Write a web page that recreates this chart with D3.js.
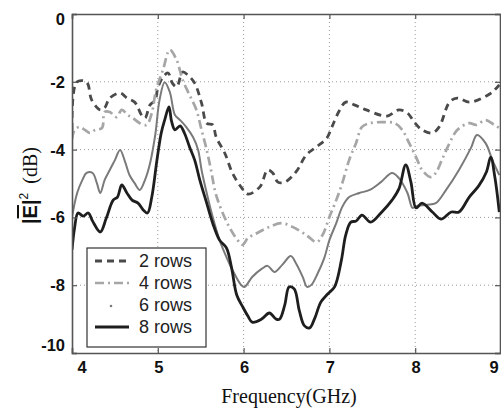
<!DOCTYPE html>
<html><head><meta charset="utf-8">
<script src="https://cdn.jsdelivr.net/npm/d3@7"></script>
<style>body{margin:0;background:#fff}svg{display:block}</style>
</head><body>
<svg id="c" width="501" height="410"></svg>
<script>
const seriesNames = ["2 rows","4 rows","6 rows","8 rows"];
const xTicks = [4,5,6,7,8,9];
const yTicks = [0,-2,-4,-6,-8,-10];

const freq2 = [4.00,4.055,4.17,4.23,4.33,4.38,4.44,4.56,4.64,4.73,4.77,4.81,4.85,4.91,4.97,5.00,5.06,5.12,5.17,5.22,5.29,5.35,5.43,5.51,5.57,5.64,5.68,5.78,5.87,5.97,6.05,6.19,6.28,6.34,6.40,6.48,6.61,6.73,6.85,6.97,7.03,7.12,7.19,7.29,7.43,7.67,7.81,7.91,7.99,8.08,8.20,8.28,8.40,8.49,8.63,8.78,8.90,8.98];
const db2 = [-3.42,-2.01,-2.01,-2.54,-2.83,-2.77,-2.48,-2.33,-2.48,-2.60,-2.77,-2.98,-3.07,-2.68,-2.54,-2.18,-1.86,-1.74,-2.04,-2.15,-1.71,-1.80,-2.04,-2.63,-3.22,-3.27,-3.63,-4.10,-4.69,-5.10,-5.31,-5.10,-4.60,-4.69,-4.96,-4.96,-4.66,-4.16,-3.92,-3.66,-3.33,-2.83,-2.60,-2.68,-2.83,-3.01,-2.83,-2.92,-3.19,-3.42,-3.51,-3.33,-2.60,-2.48,-2.60,-2.48,-2.30,-2.09];

const freq4 = [4.00,4.03,4.09,4.15,4.21,4.27,4.35,4.38,4.44,4.52,4.58,4.65,4.71,4.79,4.87,4.93,4.98,5.06,5.14,5.22,5.29,5.37,5.45,5.51,5.57,5.62,5.68,5.81,5.93,5.99,6.05,6.16,6.30,6.44,6.57,6.73,6.85,6.92,7.00,7.08,7.15,7.23,7.31,7.38,7.47,7.62,7.76,7.85,7.93,8.01,8.08,8.18,8.24,8.31,8.40,8.49,8.63,8.71,8.82,8.92,8.98];
const db4 = [-3.70,-3.42,-3.33,-3.42,-3.51,-3.42,-3.36,-2.89,-2.89,-3.04,-2.83,-2.98,-3.07,-3.22,-3.27,-2.92,-2.24,-1.65,-1.06,-1.36,-1.95,-2.39,-2.83,-3.42,-4.01,-4.60,-5.34,-6.17,-6.67,-6.81,-6.61,-6.46,-6.28,-6.17,-6.28,-6.52,-6.73,-6.52,-5.99,-5.49,-4.99,-4.31,-3.81,-3.33,-3.22,-3.19,-3.22,-3.42,-3.81,-4.22,-4.60,-4.81,-4.69,-4.31,-3.81,-3.42,-3.22,-3.27,-3.13,-3.27,-3.36];

const freq6 = [4.00,4.06,4.12,4.17,4.24,4.29,4.33,4.38,4.44,4.50,4.56,4.62,4.67,4.73,4.79,4.85,4.91,4.97,5.02,5.08,5.14,5.20,5.26,5.33,5.41,5.47,5.51,5.57,5.64,5.72,5.80,5.87,5.97,6.01,6.10,6.21,6.28,6.36,6.45,6.55,6.61,6.69,6.74,6.79,6.86,6.94,7.00,7.08,7.15,7.23,7.35,7.47,7.60,7.73,7.81,7.91,7.97,8.02,8.14,8.24,8.36,8.51,8.65,8.72,8.82,8.90,8.98];
const db6 = [-5.99,-5.28,-4.90,-4.69,-4.69,-4.99,-5.28,-4.90,-4.60,-4.31,-4.01,-4.37,-4.75,-4.99,-5.19,-4.90,-4.40,-3.57,-2.54,-2.01,-2.30,-2.98,-3.13,-3.33,-3.63,-4.01,-4.60,-5.28,-5.99,-6.67,-7.17,-7.55,-7.99,-8.05,-7.76,-7.52,-7.43,-7.61,-7.40,-7.14,-7.35,-7.76,-8.05,-7.99,-7.67,-7.20,-6.67,-6.17,-5.69,-5.40,-5.28,-5.19,-4.96,-4.69,-4.84,-5.28,-5.72,-5.66,-5.63,-5.58,-5.19,-4.60,-3.95,-3.57,-3.81,-4.31,-4.75];

const freq8 = [4.00,4.03,4.07,4.13,4.19,4.24,4.33,4.40,4.48,4.53,4.58,4.64,4.70,4.77,4.83,4.88,4.93,4.99,5.04,5.08,5.13,5.16,5.20,5.26,5.31,5.37,5.43,5.49,5.57,5.64,5.72,5.80,5.86,5.92,5.99,6.05,6.10,6.21,6.30,6.38,6.42,6.48,6.53,6.59,6.65,6.71,6.77,6.83,6.90,6.98,7.06,7.14,7.19,7.25,7.31,7.38,7.48,7.60,7.73,7.81,7.89,7.95,8.01,8.08,8.20,8.30,8.42,8.51,8.63,8.74,8.83,8.88,8.93,8.98];
const db8 = [-6.96,-6.31,-5.87,-5.96,-5.87,-6.11,-6.43,-6.02,-5.49,-5.40,-5.04,-5.28,-5.49,-5.58,-5.78,-5.87,-5.40,-4.31,-3.51,-3.13,-2.74,-3.16,-3.42,-3.30,-3.51,-3.92,-4.31,-4.90,-5.58,-6.17,-6.67,-6.90,-7.49,-8.29,-8.64,-8.91,-9.09,-9.00,-8.82,-9.00,-9.00,-8.58,-8.05,-8.11,-8.76,-9.20,-9.26,-8.97,-8.50,-8.26,-8.05,-7.26,-6.52,-6.14,-6.11,-5.93,-6.14,-5.87,-5.49,-5.16,-4.45,-4.96,-5.72,-5.58,-5.84,-6.05,-5.84,-5.84,-5.40,-5.07,-4.66,-4.22,-4.84,-5.84];

const series = [
  {name: seriesNames[0], f: freq2, v: db2, color: "#4a4a4a", width: 2.8, dash: "7,5"},
  {name: seriesNames[1], f: freq4, v: db4, color: "#a6a6a6", width: 2.7, dash: "9,4,2,4"},
  {name: seriesNames[2], f: freq6, v: db6, color: "#7a7a7a", width: 2.0, dash: null},
  {name: seriesNames[3], f: freq8, v: db8, color: "#1e1e1e", width: 2.8, dash: null}
];

const L = 72, R = 501, T = 14, B = 353;
const svg = d3.select("#c");
const x = d3.scaleLinear().domain([4,9]).range([L,R]);
const y = d3.scaleLinear().domain([-10,0]).range([B,T]);

svg.append("defs").append("clipPath").attr("id","clip")
  .append("rect").attr("x",L).attr("y",T).attr("width",R-L-1).attr("height",B-T);

// grid
const grid = svg.append("g");
grid.selectAll(".gx").data(xTicks.slice(1,-1)).enter().append("line")
  .attr("x1",d=>x(d)).attr("x2",d=>x(d)).attr("y1",T).attr("y2",B)
  .attr("stroke","#9a9a9a").attr("stroke-width",1).attr("stroke-dasharray","1,3");
grid.selectAll(".gy").data(yTicks.slice(1,-1)).enter().append("line")
  .attr("x1",L).attr("x2",R).attr("y1",d=>y(d)).attr("y2",d=>y(d))
  .attr("stroke","#9a9a9a").attr("stroke-width",1).attr("stroke-dasharray","1,3");

// lines
const line = d3.line().curve(d3.curveCatmullRom.alpha(0.5));
const lg = svg.append("g").attr("clip-path","url(#clip)");
series.forEach(s => {
  const pts = s.f.map((f,i)=>[x(f), y(s.v[i])]);
  const p = lg.append("path").attr("d", line(pts)).attr("fill","none")
    .attr("stroke", s.color).attr("stroke-width", s.width)
    .attr("stroke-linejoin","round");
  if (s.dash) p.attr("stroke-dasharray", s.dash);
});

// axes (frame)
const xAxis = d3.axisBottom(x).tickValues(xTicks).tickSize(-5).tickFormat("");
const gx = svg.append("g").attr("transform",`translate(0,${B})`).call(xAxis);
const xAxisTop = d3.axisTop(x).tickValues(xTicks).tickSize(-5).tickFormat("");
const gxt = svg.append("g").attr("transform",`translate(0,${T})`).call(xAxisTop);
const yAxis = d3.axisLeft(y).tickValues(yTicks).tickSize(-5).tickFormat("");
const gy = svg.append("g").attr("transform",`translate(${L},0)`).call(yAxis);
const yAxisR = d3.axisRight(y).tickValues(yTicks).tickSize(-5).tickFormat("");
const gyr = svg.append("g").attr("transform",`translate(${R-1},0)`).call(yAxisR);
[gx,gxt,gy,gyr].forEach(g=>{
  g.select(".domain").attr("stroke","#555").attr("stroke-width",1.6);
  g.selectAll(".tick line").attr("stroke","#555").attr("stroke-width",1.2);
});

// tick labels
const lblFont = "'Liberation Sans', Arial, sans-serif";
svg.append("g").selectAll("text").data(xTicks).enter().append("text")
  .attr("x", d => d===4 ? x(d)+10 : d===9 ? x(d)-7 : x(d)+1)
  .attr("y", 373).attr("text-anchor","middle")
  .attr("font-family",lblFont).attr("font-weight","bold").attr("font-size",16.5)
  .attr("fill","#111").text(d=>d);
svg.append("g").selectAll("text").data(yTicks).enter().append("text")
  .attr("x", 65)
  .attr("y", d => (d===0 ? y(d)+5 : d===-10 ? y(d)-8 : y(d)) + 6)
  .attr("text-anchor","end")
  .attr("font-family",lblFont).attr("font-weight","bold").attr("font-size",16.5)
  .attr("fill","#111").text(d=>d);

// x title
svg.append("text").attr("x",289).attr("y",403).attr("text-anchor","middle")
  .attr("font-family","'Liberation Serif', 'Times New Roman', serif").attr("font-size",20)
  .attr("fill","#111").text("Frequency(GHz)");

// y title
const yt = svg.append("text").attr("transform","translate(37,224) rotate(-90)")
  .attr("fill","#111");
yt.append("tspan").attr("font-family",lblFont).attr("font-weight","bold").attr("font-size",20).text("|");
yt.append("tspan").attr("font-family",lblFont).attr("font-weight","bold").attr("font-size",20)
  .style("text-decoration","overline").text("E");
yt.append("tspan").attr("font-family",lblFont).attr("font-weight","bold").attr("font-size",20).text("|");
yt.append("tspan").attr("font-family",lblFont).attr("font-size",12).attr("dy",-9).text("2");
yt.append("tspan").attr("font-family","'Liberation Serif', 'Times New Roman', serif")
  .attr("font-size",20).attr("dx",9).attr("dy",9).text("(dB)");

// legend
const leg = svg.append("g");
leg.append("rect").attr("x",87).attr("y",248).attr("width",119).attr("height",99)
  .attr("fill","#fff").attr("stroke","#333").attr("stroke-width",1.2);
const rowY = [261,283,305,327];
series.forEach((s,i)=>{
  if (i===2) {
    leg.append("circle").attr("cx",111).attr("cy",rowY[i]+1).attr("r",1.3).attr("fill",s.color);
  } else {
    const l = leg.append("line").attr("x1",95).attr("x2",129).attr("y1",rowY[i]).attr("y2",rowY[i])
      .attr("stroke",s.color).attr("stroke-width",s.width);
    if (s.dash) l.attr("stroke-dasharray", s.dash);
  }
  leg.append("text").attr("x",139).attr("y",rowY[i]+6)
    .attr("font-family",lblFont).attr("font-size",18).attr("fill","#222").text(s.name);
});
</script>
</body></html>
